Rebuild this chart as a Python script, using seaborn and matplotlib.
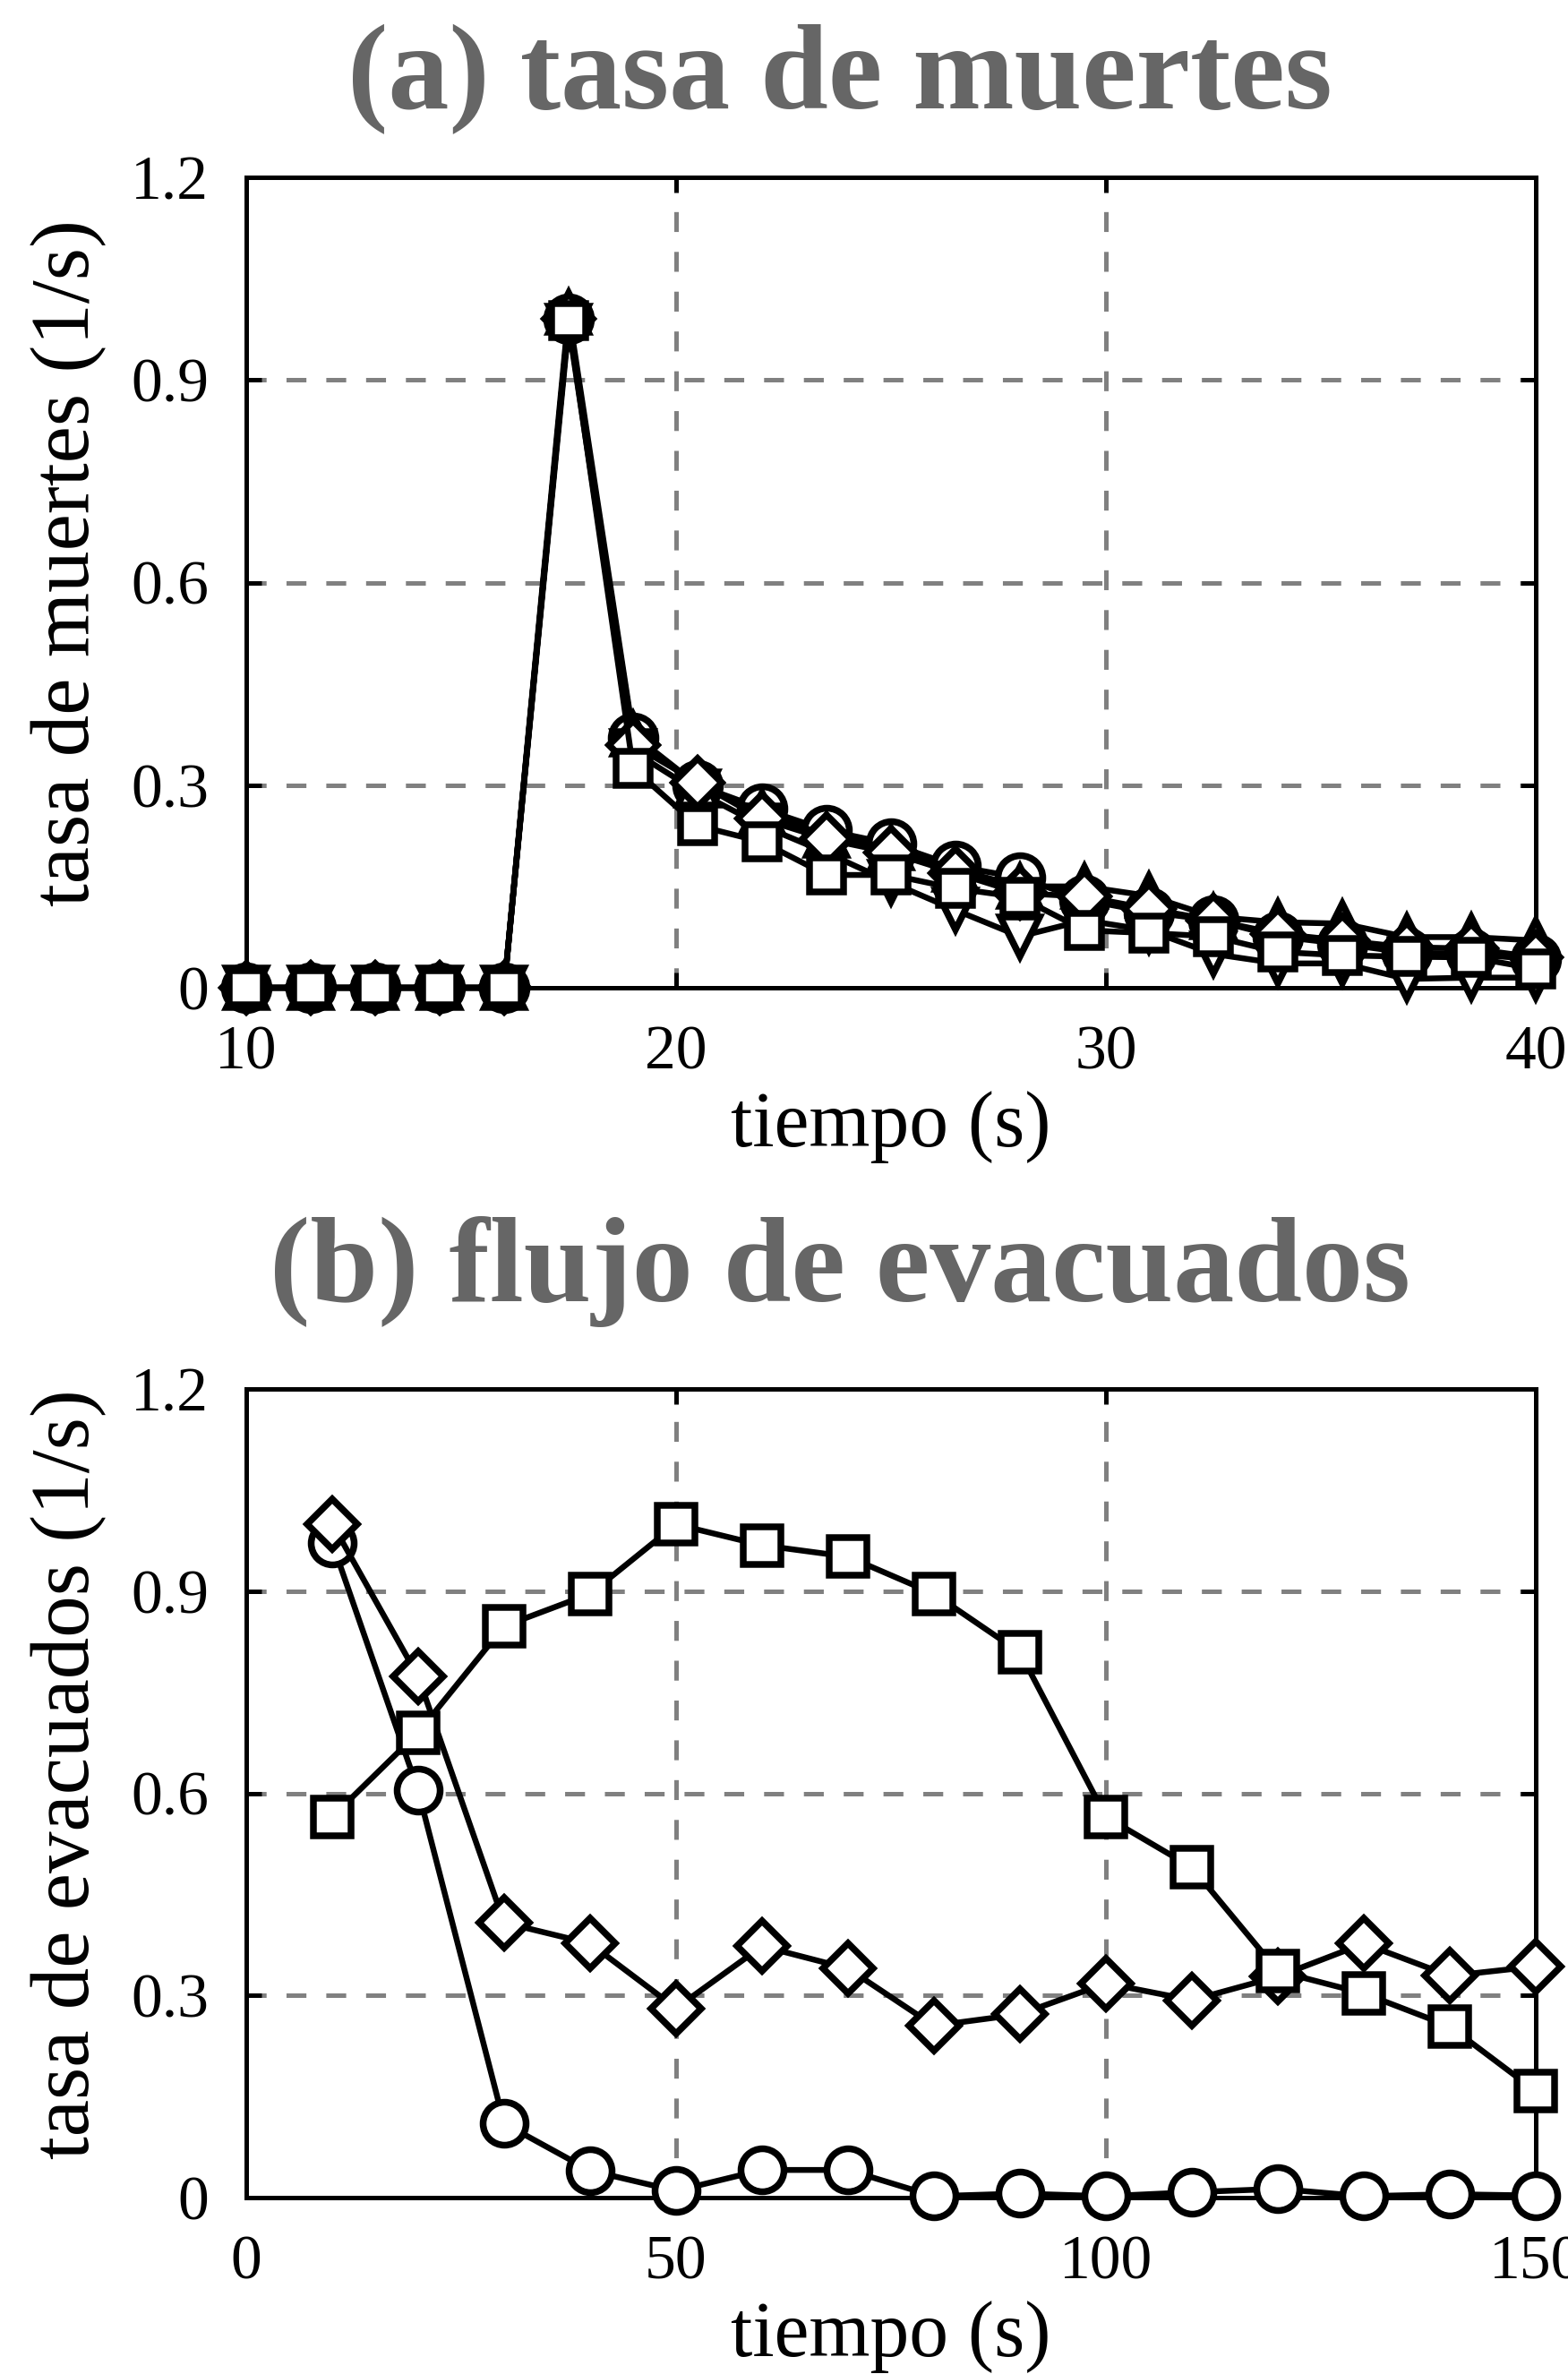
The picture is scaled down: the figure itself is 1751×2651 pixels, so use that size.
import numpy as np
import pandas as pd
import matplotlib
matplotlib.use("Agg")
import matplotlib.pyplot as plt
import seaborn as sns

# ---------------- data ----------------
# panel (a): tasa de muertes
t_a = [10, 11.5, 13, 14.5, 16, 17.5, 19, 20.5, 22, 23.5, 25, 26.5, 28, 29.5, 31,
       32.5, 34, 35.5, 37, 38.5, 40]
a_circle = [0, 0, 0, 0, 0, 0.99, 0.37, 0.30, 0.265, 0.233, 0.213, 0.18, 0.163, 0.13,
            0.112, 0.10, 0.076, 0.065, 0.052, 0.05, 0.042]
a_tri_down = [0, 0, 0, 0, 0, 0.98, 0.35, 0.29, 0.24, 0.20, 0.156, 0.115, 0.076, 0.10,
              0.085, 0.05, 0.036, 0.036, 0.013, 0.015, 0.015]
a_tri_up = [0, 0, 0, 0, 0, 1.0, 0.375, 0.30, 0.26, 0.225, 0.207, 0.175, 0.15, 0.15,
            0.136, 0.105, 0.097, 0.095, 0.075, 0.075, 0.07]
a_diamond = [0, 0, 0, 0, 0, 0.99, 0.36, 0.304, 0.25, 0.22, 0.20, 0.17, 0.14, 0.135,
             0.117, 0.10, 0.08, 0.07, 0.06, 0.058, 0.045]
a_square = [0, 0, 0, 0, 0, 0.988, 0.325, 0.24, 0.216, 0.167, 0.167, 0.147, 0.134, 0.085,
            0.081, 0.076, 0.053, 0.048, 0.046, 0.045, 0.028]

# panel (b): flujo de evacuados
t_b = [10, 20, 30, 40, 50, 60, 70, 80, 90, 100, 110, 120, 130, 140, 150]
b_square = [0.565, 0.69, 0.848, 0.896, 0.999, 0.968, 0.951, 0.896, 0.809, 0.565, 0.49,
            0.336, 0.303, 0.254, 0.158]
b_diamond = [1.0, 0.773, 0.408, 0.377, 0.281, 0.373, 0.34, 0.255, 0.272, 0.318, 0.293,
             0.328, 0.377, 0.329, 0.343]
b_circle = [0.972, 0.604, 0.11, 0.04, 0.01, 0.041, 0.041, 0.002, 0.006, 0.002, 0.008,
            0.013, 0.002, 0.005, 0.003]

title_a = "(a) tasa de muertes"
title_b = "(b) flujo de evacuados"
xlabel = "tiempo (s)"
ylabel_a = "tasa de muertes (1/s)"
ylabel_b = "tasa de evacuados (1/s)"
yticks = [0, 0.3, 0.6, 0.9, 1.2]
ytick_labels = ["0", "0.3", "0.6", "0.9", "1.2"]
xticks_a = [10, 20, 30, 40]
xticks_b = [0, 50, 100, 150]

# ---------------- style ----------------
sns.set_theme(style="white")
plt.rcParams["font.family"] = ["Liberation Serif", "DejaVu Serif"]
plt.rcParams["lines.scale_dashes"] = False

W, H = 1751, 2651
DPI = 100
fig = plt.figure(figsize=(W / DPI, H / DPI), dpi=DPI)
fig.patch.set_facecolor("white")

PX = 72.0 / DPI  # points per pixel

ax1 = fig.add_axes([275 / W, 1 - 1103 / H, 1440 / W, 905 / H])
ax2 = fig.add_axes([275 / W, 1 - 2454 / H, 1440 / W, 903 / H])

LW = 6.5 * PX
MEW = 7.5 * PX


def draw(ax, x, y, marker, ms, z):
    df = pd.DataFrame({"x": x, "y": y})
    sns.lineplot(data=df, x="x", y="y", ax=ax, color="black", lw=LW,
                 marker=marker, markersize=ms, markerfacecolor="white",
                 markeredgecolor="black", markeredgewidth=MEW,
                 errorbar=None, sort=False, clip_on=False, zorder=z)


# panel (a)
draw(ax1, t_a, a_circle, "o", 50 * PX, 3)
draw(ax1, t_a, a_tri_down, "v", 44 * PX, 4)
draw(ax1, t_a, a_tri_up, "^", 44 * PX, 5)
draw(ax1, t_a, a_diamond, "D", 38 * PX, 6)
draw(ax1, t_a, a_square, "s", 38 * PX, 7)

# panel (b)
draw(ax2, t_b, b_circle, "o", 48 * PX, 3)
draw(ax2, t_b, b_diamond, "D", 40 * PX, 4)
draw(ax2, t_b, b_square, "s", 42 * PX, 5)


def style(ax, xlim, xticks, ylabel):
    ax.set_xlim(*xlim)
    ax.set_ylim(0, 1.2)
    ax.set_xticks(xticks)
    ax.set_xticklabels([str(v) for v in xticks])
    ax.set_yticks(yticks)
    ax.set_yticklabels(ytick_labels)
    ax.grid(True, color="#808080", lw=5 * PX, ls=(0, (16, 16)), zorder=1)
    ax.set_axisbelow(True)
    for s in ax.spines.values():
        s.set_visible(True)
        s.set_color("black")
        s.set_linewidth(5 * PX)
        s.set_zorder(2)
    ax.tick_params(axis="both", which="major", direction="in", length=17 * PX,
                   width=5 * PX, color="black", top=True, right=True,
                   bottom=True, left=True, labelsize=50, labelcolor="black")
    ax.tick_params(axis="y", pad=30)
    ax.tick_params(axis="x", pad=30)
    ax.set_xlabel(xlabel, fontsize=63, color="black")
    ax.set_ylabel(ylabel, fontsize=67, color="black")
    ax.xaxis.set_label_coords(0.5, -0.172)
    ax.xaxis.label.set_va("center")
    ax.yaxis.set_label_coords(-0.138, 0.524)
    ax.yaxis.label.set_va("center")
    ax.set_facecolor("white")


style(ax1, (10, 40), xticks_a, ylabel_a)
style(ax2, (0, 150), xticks_b, ylabel_b)

fig.text(938 / W, 1 - 88 / H, title_a, ha="center", va="center", fontsize=98,
         fontweight="bold", color="#666666")
fig.text(938 / W, 1 - 1420 / H, title_b, ha="center", va="center", fontsize=98,
         fontweight="bold", color="#666666")

fig.savefig("out.png", dpi=DPI, facecolor="white")
